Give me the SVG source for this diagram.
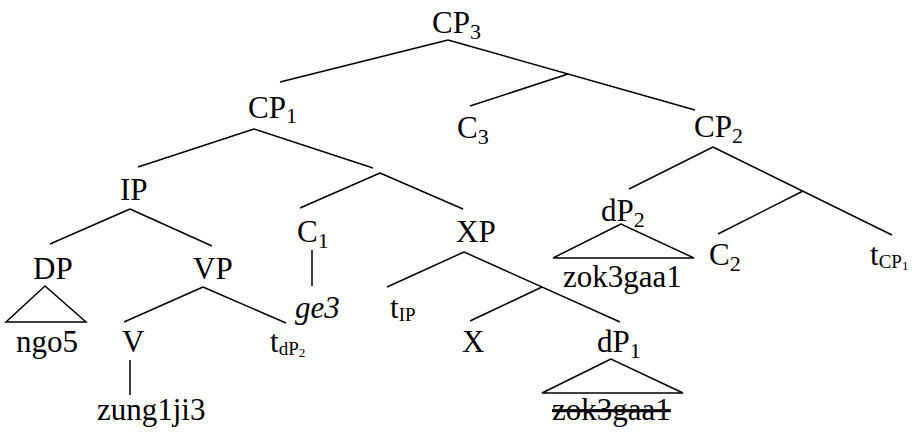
<svg xmlns="http://www.w3.org/2000/svg" width="912" height="432" viewBox="0 0 912 432">
<rect width="912" height="432" fill="#fff"/>
<g id="connectors" stroke="#000" stroke-width="1.5" fill="none">
<line x1="448" y1="40" x2="280" y2="82"/>
<line x1="448" y1="40" x2="695" y2="110"/>
<line x1="568" y1="74" x2="470" y2="106"/>
<line x1="254" y1="129" x2="138" y2="167"/>
<line x1="254" y1="129" x2="373" y2="168"/>
<line x1="380" y1="173" x2="300" y2="208"/>
<line x1="380" y1="173" x2="463" y2="209"/>
<line x1="130" y1="209" x2="50" y2="244"/>
<line x1="130" y1="209" x2="212" y2="246"/>
<line x1="203" y1="287" x2="124" y2="322"/>
<line x1="203" y1="287" x2="286" y2="323"/>
<line x1="130" y1="360" x2="130" y2="395"/>
<line x1="312" y1="250" x2="312" y2="286"/>
<line x1="464" y1="252" x2="387" y2="287"/>
<line x1="464" y1="252" x2="620" y2="322"/>
<line x1="542" y1="287" x2="470" y2="321"/>
<line x1="713" y1="147" x2="629" y2="189"/>
<line x1="713" y1="147" x2="892" y2="235"/>
<line x1="803" y1="191" x2="718" y2="234"/>
<polygon id="tri-dP2" points="621,224 553,258 694,258"/>
<polygon id="tri-DP" points="45,286 6,322 86,322"/>
<polygon id="tri-dP1" points="611,359 542,393 683,393"/>
</g>
<text id="CP3" font-family="Liberation Serif" font-size="31" x="432" y="33">CP<tspan font-size="22" dy="6">3</tspan></text>
<text id="CP1" font-family="Liberation Serif" font-size="31" x="248" y="118">CP<tspan font-size="22" dy="5">1</tspan></text>
<text id="C3" font-family="Liberation Serif" font-size="31" x="457" y="138">C<tspan font-size="22" dy="6">3</tspan></text>
<text id="CP2" font-family="Liberation Serif" font-size="31" x="694" y="137">CP<tspan font-size="22" dy="6">2</tspan></text>
<text id="IP" font-family="Liberation Serif" font-size="31" x="120" y="200">IP</text>
<text id="C1" font-family="Liberation Serif" font-size="31" x="297" y="242">C<tspan font-size="22" dy="6">1</tspan></text>
<text id="XP" font-family="Liberation Serif" font-size="31" x="456" y="242">XP</text>
<text id="dP2" font-family="Liberation Serif" font-size="31" x="601" y="221">dP<tspan font-size="22" dy="6">2</tspan></text>
<text id="zok3gaa1-a" font-family="Liberation Serif" font-size="31" x="563" y="287">zok3gaa1</text>
<text id="DP" font-family="Liberation Serif" font-size="31" x="33" y="279">DP</text>
<text id="ngo5" font-family="Liberation Serif" font-size="31" x="16" y="352">ngo5</text>
<text id="VP" font-family="Liberation Serif" font-size="31" x="193" y="279">VP</text>
<text id="C2" font-family="Liberation Serif" font-size="31" x="709" y="265">C<tspan font-size="22" dy="6">2</tspan></text>
<text id="tCP1" font-family="Liberation Serif" font-size="31" x="870" y="265">t<tspan font-size="19" dy="3">CP</tspan><tspan font-size="13" dy="2">1</tspan></text>
<text id="ge3" font-family="Liberation Serif" font-size="31" font-style="italic" x="295" y="318">ge3</text>
<text id="tIP" font-family="Liberation Serif" font-size="31" x="390" y="318">t<tspan font-size="19" dy="3">IP</tspan></text>
<text id="V" font-family="Liberation Serif" font-size="31" x="122" y="352">V</text>
<text id="zung1ji3" font-family="Liberation Serif" font-size="31" x="97" y="420">zung1ji3</text>
<text id="tdP2" font-family="Liberation Serif" font-size="31" x="270" y="352">t<tspan font-size="19" dy="3">dP</tspan><tspan font-size="13" dy="2">2</tspan></text>
<text id="X" font-family="Liberation Serif" font-size="31" x="462" y="352">X</text>
<text id="dP1" font-family="Liberation Serif" font-size="31" x="597" y="352">dP<tspan font-size="22" dy="6">1</tspan></text>
<text id="zok3gaa1-b" font-family="Liberation Serif" font-size="31" text-decoration="line-through" x="552" y="420">zok3gaa1</text>
</svg>
